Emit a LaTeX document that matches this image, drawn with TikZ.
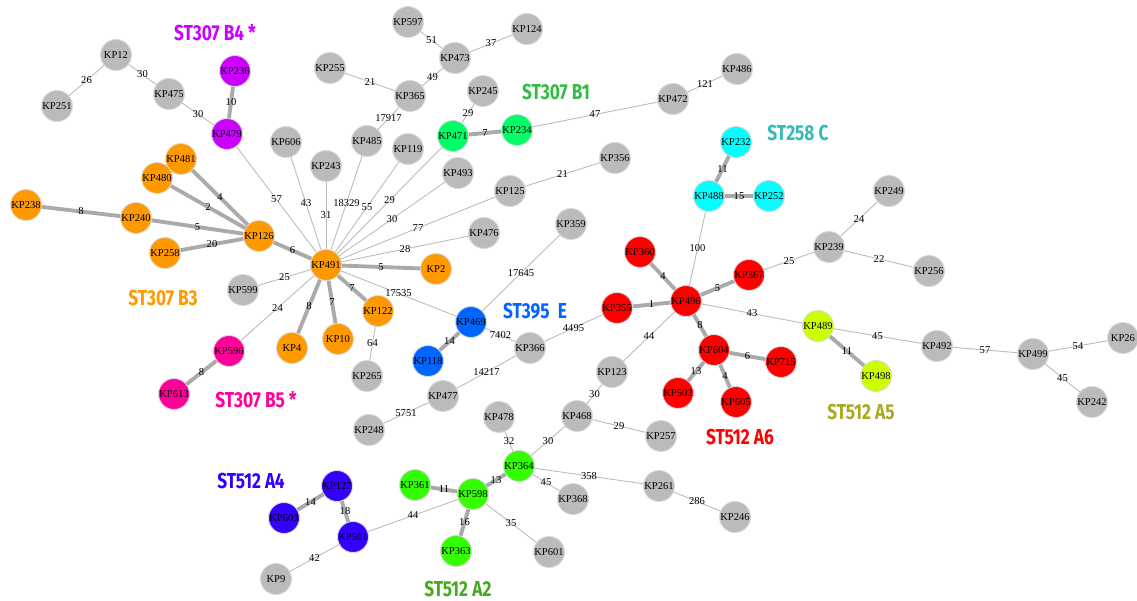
\documentclass[tikz,border=0pt]{standalone}
\usepackage{fontspec}
\setmainfont{Liberation Serif}
\newfontfamily\grpfont[FakeStretch=0.8]{Fira Sans}

\definecolor{nodegrey}{HTML}{BBBBBB}
\definecolor{linkgrey}{HTML}{AAAAAA}
\definecolor{b3orange}{HTML}{FF9900}
\definecolor{b4violet}{HTML}{CC00FF}
\definecolor{b1green}{HTML}{00FF66}
\definecolor{b1text}{HTML}{33BB44}
\definecolor{ccyan}{HTML}{00FFFF}
\definecolor{ctext}{HTML}{33BBBB}
\definecolor{b5pink}{HTML}{FF0099}
\definecolor{eblue}{HTML}{0066FF}
\definecolor{a6red}{HTML}{FF0000}
\definecolor{a5lime}{HTML}{CCFF00}
\definecolor{a5text}{HTML}{AAAA22}
\definecolor{a4blue}{HTML}{3300FF}
\definecolor{a2green}{HTML}{33FF00}
\definecolor{a2text}{HTML}{44AA22}

\begin{document}
\begin{tikzpicture}[x=0.02cm, y=-0.02cm,
	every node/.style={font=\fontsize{6}{7}\selectfont},
	kp/.style={circle, minimum size=0.62cm, inner sep=0pt, draw=white!85!black, line width=0.5pt, fill=#1},
	kp/.default=nodegrey,
	farlink/.style={draw=nodegrey, line width=0.5pt},
	nearlink/.style={draw=linkgrey, line width=2.2pt},
	elabel/.style={inner sep=0.5pt},
	grp/.style={font=\grpfont\bfseries\fontsize{12.3}{14}\selectfont, text=#1}]
	\useasboundingbox (0,0) rectangle (1137,601);
	% ST307 B4 / B3 side
	\node[kp] (KP12) at (116,55) {KP12};
	\node[kp] (KP251) at (57,106) {KP251};
	\node[kp] (KP475) at (169,94) {KP475};
	\node[kp=b4violet] (KP236) at (235,71) {KP236};
	\node[kp=b4violet] (KP479) at (227,134) {KP479};
	\node[kp=b3orange] (KP481) at (181,159) {KP481};
	\node[kp=b3orange] (KP480) at (157,178) {KP480};
	\node[kp=b3orange] (KP238) at (26,205) {KP238};
	\node[kp=b3orange] (KP240) at (136,218) {KP240};
	\node[kp=b3orange] (KP258) at (165,253) {KP258};
	\node[kp=b3orange] (KP126) at (259,236) {KP126};
	\node[kp] (KP599) at (243,290) {KP599};
	\node[kp=b5pink] (KP596) at (229,351) {KP596};
	\node[kp=b5pink] (KP613) at (174,394) {KP613};
	\node[kp=b3orange] (KP491) at (326,265) {KP491};
	\node[kp=b3orange] (KP2) at (436,269) {KP2};
	\node[kp=b3orange] (KP122) at (378,311) {KP122};
	\node[kp=b3orange] (KP10) at (338,339) {KP10};
	\node[kp=b3orange] (KP4) at (292,348) {KP4};
	\node[kp] (KP265) at (367,376) {KP265};
	% upper fan
	\node[kp] (KP606) at (286,142) {KP606};
	\node[kp] (KP243) at (326,166) {KP243};
	\node[kp] (KP485) at (367,141) {KP485};
	\node[kp] (KP119) at (408,149) {KP119};
	\node[kp] (KP597) at (408,22) {KP597};
	\node[kp] (KP473) at (455,58) {KP473};
	\node[kp] (KP124) at (527,29) {KP124};
	\node[kp] (KP255) at (330,68) {KP255};
	\node[kp] (KP365) at (410,96) {KP365};
	\node[kp] (KP245) at (483,91) {KP245};
	\node[kp=b1green] (KP471) at (453,136) {KP471};
	\node[kp=b1green] (KP234) at (517,130) {KP234};
	\node[kp] (KP493) at (458,173) {KP493};
	\node[kp] (KP125) at (510,191) {KP125};
	\node[kp] (KP476) at (484,233) {KP476};
	\node[kp] (KP472) at (673,99) {KP472};
	\node[kp] (KP486) at (737,69) {KP486};
	\node[kp] (KP356) at (615,158) {KP356};
	% ST258 C and ST512 A6
	\node[kp=ccyan] (KP232) at (736,142) {KP232};
	\node[kp=ccyan] (KP488) at (709,196) {KP488};
	\node[kp=ccyan] (KP252) at (769,196) {KP252};
	\node[kp] (KP249) at (889,191) {KP249};
	\node[kp] (KP239) at (829,247) {KP239};
	\node[kp] (KP256) at (929,271) {KP256};
	\node[kp=a6red] (KP360) at (640,252) {KP360};
	\node[kp=a6red] (KP367) at (749,275) {KP367};
	\node[kp=a6red] (KP496) at (686,301) {KP496};
	\node[kp=a6red] (KP355) at (617,308) {KP355};
	\node[kp=a6red] (KP604) at (714,350) {KP604};
	\node[kp=a6red] (KP715) at (781,362) {KP715};
	\node[kp=a6red] (KP502) at (678,393) {KP502};
	\node[kp=a6red] (KP605) at (736,402) {KP605};
	\node[kp=a5lime] (KP489) at (818,326) {KP489};
	\node[kp=a5lime] (KP498) at (876,376) {KP498};
	\node[kp] (KP492) at (937,346) {KP492};
	\node[kp] (KP499) at (1033,354) {KP499};
	\node[kp] (KP26) at (1123,338) {KP26};
	\node[kp] (KP242) at (1092,402) {KP242};
	% ST395 E
	\node[kp] (KP359) at (571,224) {KP359};
	\node[kp=eblue] (KP469) at (471,322) {KP469};
	\node[kp=eblue] (KP118) at (428,361) {KP118};
	\node[kp] (KP366) at (530,348) {KP366};
	\node[kp] (KP477) at (443,396) {KP477};
	\node[kp] (KP248) at (369,430) {KP248};
	% ST512 A2 / A4
	\node[kp] (KP123) at (612,372) {KP123};
	\node[kp] (KP468) at (577,416) {KP468};
	\node[kp] (KP478) at (499,417) {KP478};
	\node[kp] (KP257) at (661,436) {KP257};
	\node[kp=a2green] (KP364) at (519,466) {KP364};
	\node[kp=a2green] (KP598) at (473,494) {KP598};
	\node[kp=a2green] (KP361) at (415,485) {KP361};
	\node[kp=a2green] (KP363) at (456,551) {KP363};
	\node[kp] (KP368) at (573,499) {KP368};
	\node[kp] (KP601) at (549,552) {KP601};
	\node[kp] (KP261) at (659,486) {KP261};
	\node[kp] (KP246) at (735,517) {KP246};
	\node[kp=a4blue] (KP127) at (337,486) {KP127};
	\node[kp=a4blue] (KP603) at (284,518) {KP603};
	\node[kp=a4blue] (KP501) at (353,537) {KP501};
	\node[kp] (KP9) at (276,579) {KP9};

	% close links
	\draw[nearlink] (KP236) -- node[elabel] {10} (KP479);
	\draw[nearlink] (KP126) -- node[elabel] {4} (KP481);
	\draw[nearlink] (KP126) -- node[elabel] {2} (KP480);
	\draw[nearlink] (KP126) -- node[elabel] {5} (KP240);
	\draw[nearlink] (KP240) -- node[elabel] {8} (KP238);
	\draw[nearlink] (KP126) -- node[elabel] {20} (KP258);
	\draw[nearlink] (KP126) -- node[elabel] {6} (KP491);
	\draw[nearlink] (KP491) -- node[elabel] {5} (KP2);
	\draw[nearlink] (KP491) -- node[elabel] {7} (KP122);
	\draw[nearlink] (KP491) -- node[elabel] {7} (KP10);
	\draw[nearlink] (KP491) -- node[elabel] {8} (KP4);
	\draw[nearlink] (KP596) -- node[elabel] {8} (KP613);
	\draw[nearlink] (KP471) -- node[elabel] {7} (KP234);
	\draw[nearlink] (KP232) -- node[elabel] {11} (KP488);
	\draw[nearlink] (KP488) -- node[elabel] {15} (KP252);
	\draw[nearlink] (KP469) -- node[elabel] {14} (KP118);
	\draw[nearlink] (KP496) -- node[elabel] {4} (KP360);
	\draw[nearlink] (KP496) -- node[elabel] {5} (KP367);
	\draw[nearlink] (KP496) -- node[elabel] {1} (KP355);
	\draw[nearlink] (KP496) -- node[elabel] {8} (KP604);
	\draw[nearlink] (KP604) -- node[elabel] {6} (KP715);
	\draw[nearlink] (KP604) -- node[elabel] {13} (KP502);
	\draw[nearlink] (KP604) -- node[elabel] {4} (KP605);
	\draw[nearlink] (KP489) -- node[elabel] {11} (KP498);
	\draw[nearlink] (KP127) -- node[elabel] {14} (KP603);
	\draw[nearlink] (KP127) -- node[elabel] {18} (KP501);
	\draw[nearlink] (KP598) -- node[elabel] {11} (KP361);
	\draw[nearlink] (KP598) -- node[elabel] {16} (KP363);
	\draw[nearlink] (KP598) -- node[elabel] {13} (KP364);

	% far links
	\draw[farlink] (KP12) -- node[elabel] {26} (KP251);
	\draw[farlink] (KP12) -- node[elabel] {30} (KP475);
	\draw[farlink] (KP475) -- node[elabel] {30} (KP479);
	\draw[farlink] (KP479) -- node[elabel] {57} (KP491);
	\draw[farlink] (KP606) -- node[elabel] {43} (KP491);
	\draw[farlink] (KP243) -- node[elabel] {31} (KP491);
	\draw[farlink] (KP485) -- node[elabel] {18329} (KP491);
	\draw[farlink] (KP119) -- node[elabel] {55} (KP491);
	\draw[farlink] (KP471) -- node[elabel] {29} (KP491);
	\draw[farlink] (KP493) -- node[elabel] {30} (KP491);
	\draw[farlink] (KP125) -- node[elabel] {77} (KP491);
	\draw[farlink] (KP476) -- node[elabel] {28} (KP491);
	\draw[farlink] (KP599) -- node[elabel] {25} (KP491);
	\draw[farlink] (KP596) -- node[elabel] {24} (KP491);
	\draw[farlink] (KP491) -- node[elabel] {17535} (KP469);
	\draw[farlink] (KP122) -- node[elabel] {64} (KP265);
	\draw[farlink] (KP245) -- node[elabel] {29} (KP471);
	\draw[farlink] (KP365) -- node[elabel] {17917} (KP485);
	\draw[farlink] (KP255) -- node[elabel] {21} (KP365);
	\draw[farlink] (KP365) -- node[elabel] {49} (KP473);
	\draw[farlink] (KP597) -- node[elabel] {51} (KP473);
	\draw[farlink] (KP473) -- node[elabel] {37} (KP124);
	\draw[farlink] (KP234) -- node[elabel] {47} (KP472);
	\draw[farlink] (KP472) -- node[elabel] {121} (KP486);
	\draw[farlink] (KP125) -- node[elabel] {21} (KP356);
	\draw[farlink] (KP469) -- node[elabel] {17645} (KP359);
	\draw[farlink] (KP469) -- node[elabel] {7402} (KP366);
	\draw[farlink] (KP366) -- node[elabel] {4495} (KP355);
	\draw[farlink] (KP366) -- node[elabel] {14217} (KP477);
	\draw[farlink] (KP477) -- node[elabel] {5751} (KP248);
	\draw[farlink] (KP496) -- node[elabel] {100} (KP488);
	\draw[farlink] (KP496) -- node[elabel] {44} (KP123);
	\draw[farlink] (KP496) -- node[elabel] {43} (KP489);
	\draw[farlink] (KP367) -- node[elabel] {25} (KP239);
	\draw[farlink] (KP239) -- node[elabel] {24} (KP249);
	\draw[farlink] (KP239) -- node[elabel] {22} (KP256);
	\draw[farlink] (KP489) -- node[elabel] {45} (KP492);
	\draw[farlink] (KP492) -- node[elabel] {57} (KP499);
	\draw[farlink] (KP499) -- node[elabel] {54} (KP26);
	\draw[farlink] (KP499) -- node[elabel] {45} (KP242);
	\draw[farlink] (KP123) -- node[elabel] {30} (KP468);
	\draw[farlink] (KP468) -- node[elabel] {29} (KP257);
	\draw[farlink] (KP468) -- node[elabel] {30} (KP364);
	\draw[farlink] (KP478) -- node[elabel] {32} (KP364);
	\draw[farlink] (KP364) -- node[elabel] {45} (KP368);
	\draw[farlink] (KP364) -- node[elabel] {358} (KP261);
	\draw[farlink] (KP261) -- node[elabel] {286} (KP246);
	\draw[farlink] (KP598) -- node[elabel] {35} (KP601);
	\draw[farlink] (KP598) -- node[elabel] {44} (KP501);
	\draw[farlink] (KP501) -- node[elabel] {42} (KP9);

	% group names
	\node[grp=b4violet] (nameB4) at (215,33) {ST307 B4 *};
	\node[grp=b1text] (nameB1) at (556,92) {ST307 B1};
	\node[grp=ctext] (nameC) at (798,133) {ST258 C};
	\node[grp=b3orange] (nameB3) at (163,298) {ST307 B3};
	\node[grp=b5pink] (nameB5) at (256,400) {ST307 B5 *};
	\node[grp=eblue] (nameE) at (535,311) {ST395~~E};
	\node[grp=a6red] (nameA6) at (740,437) {ST512 A6};
	\node[grp=a5text] (nameA5) at (861,412) {ST512 A5};
	\node[grp=a4blue] (nameA4) at (251,481) {ST512 A4};
	\node[grp=a2text] (nameA2) at (458,589) {ST512 A2};
\end{tikzpicture}
\end{document}
